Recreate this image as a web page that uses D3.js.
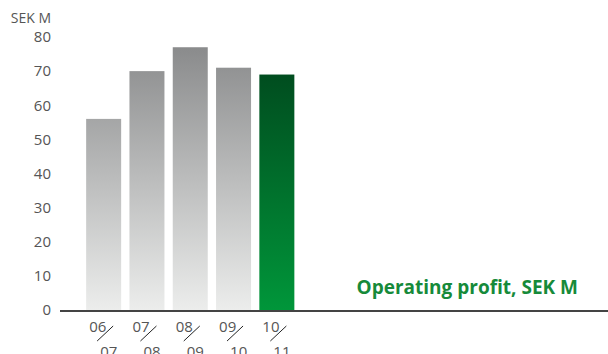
<!DOCTYPE html>
<html>
<head>
<meta charset="utf-8">
<script src="https://cdn.jsdelivr.net/npm/d3@7"></script>
<style>
  body { margin: 0; background: #fff; }
  text { font-family: "Open Sans", sans-serif; }
</style>
</head>
<body>
<svg id="chart"></svg>
<script>
const years = ["06/07", "07/08", "08/09", "09/10", "10/11"];
const profit = [56, 70, 77, 71, 69];
const yTicks = [0, 10, 20, 30, 40, 50, 60, 70, 80];
const unitLabel = "SEK M";
const legendLabel = "Operating profit, SEK M";

const width = 608, height = 354;
const svg = d3.select("#chart").attr("width", width).attr("height", height);

const y = d3.scaleLinear().domain([0, 80]).range([310, 37]);
const x = d3.scaleBand().domain(years).range([82, 298.5]).padding(0);
const barW = 35;
const off = (x.bandwidth() - barW) / 2;

const defs = svg.append("defs");
const grey = defs.append("linearGradient").attr("id", "grey")
  .attr("gradientUnits", "userSpaceOnUse").attr("x1", 0).attr("x2", 0).attr("y1", y(77)).attr("y2", y(0));
grey.append("stop").attr("offset", 0).attr("stop-color", "#8a8b8c");
grey.append("stop").attr("offset", 1).attr("stop-color", "#ecedec");
const green = defs.append("linearGradient").attr("id", "green")
  .attr("gradientUnits", "userSpaceOnUse").attr("x1", 0).attr("x2", 0).attr("y1", y(69)).attr("y2", y(0));
green.append("stop").attr("offset", 0).attr("stop-color", "#004d1f");
green.append("stop").attr("offset", 1).attr("stop-color", "#00963a");

// bars
svg.append("g").selectAll("rect").data(years).join("rect")
  .attr("x", d => x(d) + off)
  .attr("width", barW)
  .attr("y", (d, i) => y(profit[i]))
  .attr("height", (d, i) => y(0) - y(profit[i]))
  .attr("fill", (d, i) => i === years.length - 1 ? "url(#green)" : "url(#grey)");

// y axis labels
const yAxis = svg.append("g").attr("transform", "translate(51,0)")
  .call(d3.axisLeft(y).tickValues(yTicks).tickSize(0).tickPadding(0));
yAxis.select(".domain").remove();
yAxis.selectAll("text").attr("font-size", 15).attr("fill", "#555").attr("font-family", "Open Sans, sans-serif");

svg.append("text").attr("x", 51).attr("y", 23).attr("text-anchor", "end")
  .attr("font-size", 14).attr("fill", "#555").text(unitLabel);

// baseline
svg.append("line").attr("x1", 60).attr("x2", width).attr("y1", 311).attr("y2", 311)
  .attr("stroke", "#444").attr("stroke-width", 2);

// x labels, split fraction style
const xl = svg.append("g").selectAll("g").data(years).join("g")
  .attr("transform", d => `translate(${x(d) + off},0)`);
xl.append("text").attr("x", 3).attr("y", 332).attr("font-size", 15).attr("fill", "#555")
  .text(d => d.split("/")[0]);
xl.append("line").attr("x1", 11).attr("y1", 341).attr("x2", 27).attr("y2", 326)
  .attr("stroke", "#222").attr("stroke-width", 1);
xl.append("text").attr("x", 14).attr("y", 357).attr("font-size", 15).attr("fill", "#555")
  .text(d => d.split("/")[1]);

// legend label
svg.append("text").attr("x", 578).attr("y", 294).attr("text-anchor", "end")
  .attr("font-size", 19).attr("font-weight", 700).attr("fill", "#168a3a").text(legendLabel);
</script>
</body>
</html>
